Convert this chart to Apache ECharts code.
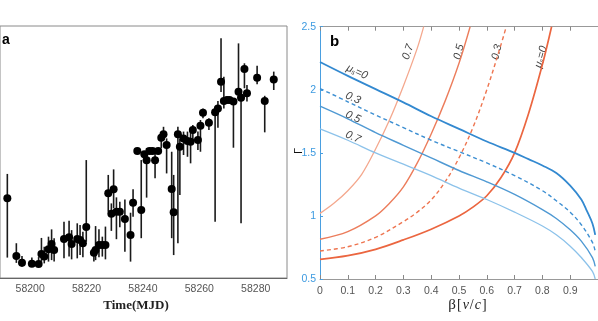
<!DOCTYPE html>
<html><head><meta charset="utf-8">
<script src="https://cdn.jsdelivr.net/npm/echarts@6/dist/echarts.min.js"></script>
<style>html,body{margin:0;padding:0;background:#fff}#c{width:598px;height:321px}</style>
</head><body><div id="c"></div>
<script>
// ---- Panel a: light curve (MJD, value, lower, upper) ----
const mjd = [58191.9,58195.1,58197.1,58200.6,58203.0,58204.0,58205.0,58206.5,58207.6,58208.5,58212.0,58213.8,58214.7,58216.7,58217.7,58218.7,58219.9,58222.6,58223.2,58224.4,58225.6,58226.7,58227.7,58228.8,58229.6,58230.6,58231.8,58233.6,58235.6,58236.5,58238.0,58239.4,58240.5,58241.3,58242.3,58243.4,58244.3,58245.4,58246.5,58247.3,58248.4,58250.2,58250.9,58252.4,58253.1,58254.4,58255.8,58256.9,58257.7,58259.5,58260.4,58261.3,58263.4,58265.6,58266.6,58267.7,58268.7,58269.8,58270.7,58272.1,58273.9,58274.8,58276.0,58276.9,58280.5,58283.2,58286.4];
const flux = [3.16,0.87,0.61,0.57,0.56,0.95,0.85,1.14,1.35,1.11,1.55,1.62,1.35,1.55,1.51,1.38,2.02,1.00,1.11,1.31,1.31,1.31,3.36,2.55,3.52,2.63,2.63,2.34,1.71,2.99,5.04,2.70,4.91,4.67,5.04,5.04,4.67,5.04,5.57,5.70,5.28,3.53,2.61,5.70,5.21,5.54,5.44,5.41,5.87,5.48,6.04,6.56,6.16,6.58,6.73,7.79,7.02,7.06,7.06,7.00,7.39,7.15,8.29,7.33,7.95,7.02,7.88];
const fluxLo = [0.81,0.60,0.45,0.45,0.44,0.65,0.58,0.65,0.71,0.65,0.78,0.85,0.74,0.78,0.91,0.82,1.44,0.65,0.71,0.82,0.85,0.74,2.63,1.87,2.77,1.54,2.01,1.04,0.65,2.43,4.94,1.58,4.80,3.19,4.97,4.97,3.96,4.97,5.15,5.48,4.15,1.58,0.91,1.38,3.29,4.88,4.81,4.55,5.48,5.08,5.01,6.34,5.87,2.23,5.96,7.38,6.73,6.98,6.98,5.17,7.13,2.17,7.53,7.00,7.69,5.78,7.46];
const fluxHi = [4.13,1.38,0.87,0.81,0.83,1.59,1.24,1.64,1.93,1.58,2.23,2.27,1.90,2.17,2.10,1.84,4.68,1.18,2.06,1.93,1.64,2.04,4.09,2.96,4.31,3.20,3.03,3.12,2.59,3.52,5.14,4.68,5.02,5.16,5.11,5.11,5.04,5.11,5.78,6.00,5.54,5.01,4.09,6.00,5.54,5.81,5.81,5.87,6.07,5.81,6.27,6.73,6.34,6.80,7.02,9.51,7.99,7.14,7.14,7.14,9.31,7.19,8.52,7.66,8.42,7.23,8.19];
const mjdTicks = [58200,58220,58240,58260,58280];

// ---- Panel b: Gamma vs beta curves ([beta, Gamma]) ----
const redMu0  = [[0,0.656],[0.1,0.685],[0.2,0.735],[0.3,0.81],[0.4,0.895],[0.5,1.0],[0.55,1.07],[0.6,1.16],[0.65,1.3],[0.7,1.5],[0.75,1.81],[0.8,2.2],[0.833,2.5]];
const redMu03 = [[0,0.722],[0.1,0.756],[0.2,0.83],[0.3,0.955],[0.35,1.03],[0.4,1.127],[0.45,1.27],[0.5,1.46],[0.55,1.70],[0.6,2.0],[0.65,2.35],[0.67,2.5]];
const redMu05 = [[0,0.815],[0.1,0.875],[0.2,1.0],[0.25,1.1],[0.3,1.23],[0.35,1.42],[0.4,1.65],[0.45,1.91],[0.5,2.21],[0.54,2.5]];
const redMu07 = [[0,1.02],[0.05,1.1],[0.1,1.2],[0.15,1.33],[0.2,1.53],[0.25,1.76],[0.3,2.03],[0.35,2.33],[0.373,2.5]];
const blueMu0  = [[0,2.22],[0.1,2.11],[0.2,2.005],[0.3,1.9],[0.4,1.79],[0.5,1.69],[0.6,1.59],[0.7,1.5],[0.75,1.45],[0.8,1.40],[0.85,1.34],[0.9,1.24],[0.94,1.13],[0.96,1.04],[0.98,0.94],[0.99,0.85]];
const blueMu03 = [[0,2.01],[0.1,1.905],[0.2,1.80],[0.3,1.70],[0.4,1.60],[0.5,1.51],[0.6,1.42],[0.7,1.32],[0.8,1.20],[0.85,1.12],[0.9,1.03],[0.94,0.93],[0.98,0.79],[0.99,0.72]];
const blueMu05 = [[0,1.87],[0.1,1.77],[0.2,1.66],[0.3,1.56],[0.4,1.46],[0.5,1.36],[0.6,1.27],[0.7,1.17],[0.8,1.05],[0.85,0.98],[0.9,0.89],[0.94,0.80],[0.98,0.67],[0.99,0.60]];
const blueMu07 = [[0,1.69],[0.1,1.60],[0.2,1.50],[0.3,1.41],[0.4,1.32],[0.5,1.22],[0.6,1.13],[0.7,1.03],[0.8,0.92],[0.85,0.85],[0.9,0.76],[0.94,0.67],[0.98,0.56],[0.99,0.50]];

const chart = echarts.init(document.getElementById('c'), null, {renderer:'canvas'});
const errData = mjd.map((m,i)=>[m, fluxLo[i], fluxHi[i]]);
const ptData = mjd.map((m,i)=>[m, flux[i]]);

function line(data, color, width, dashed, z){
  return {type:'line', xAxisIndex:1, yAxisIndex:1, data, smooth:0.35, symbol:'none', silent:true, z:z||2,
    lineStyle:{color, width, type: dashed ? [4,3] : 'solid'}, clip:true};
}
const muText = (x,y,rot)=>({type:'text', x, y, rotation:rot, style:{text:'{m|μ}{s|s}{e|=0}', align:'center', verticalAlign:'middle',
  rich:{m:{font:'italic 11px "Liberation Sans"', fill:'#444'}, s:{font:'italic 7px "Liberation Sans"', fill:'#444', verticalAlign:'bottom', padding:[4,0,0,0]}, e:{font:'italic 11px "Liberation Sans"', fill:'#444'}}}});
const numText = (x,y,rot,t)=>({type:'text', x, y, rotation:rot, style:{text:t, font:'italic 11px "Liberation Sans"', fill:'#444', align:'center', verticalAlign:'middle'}});

chart.setOption({
  animation:false,
  grid:[
    {left:-1, top:26, width:288, height:252, show:true, borderColor:'#8a8a8a', borderWidth:1, backgroundColor:'transparent'},
    {left:320, top:26.7, width:284, height:252.3, show:false}
  ],
  xAxis:[
    {gridIndex:0, type:'value', min:58189.3, max:58291.1, splitLine:{show:false},
     axisLine:{show:true, lineStyle:{color:'#666'}}, axisTick:{show:false},
     axisLabel:{customValues:mjdTicks, formatter:v=>String(v), color:'#555', fontFamily:'Liberation Sans', fontSize:10.5, margin:6}},
    {gridIndex:1, type:'value', min:0, max:1, interval:0.1, splitLine:{show:false},
     axisLine:{lineStyle:{color:'#999'}}, axisTick:{inside:true, length:4, lineStyle:{color:'#888'}},
     axisLabel:{color:'#555', fontFamily:'Liberation Sans', fontSize:10.5, margin:7, showMaxLabel:false}},
    {gridIndex:1, type:'value', position:'top', min:0, max:1, interval:0.1, splitLine:{show:false},
     axisLine:{lineStyle:{color:'#999'}}, axisTick:{inside:true, length:4, lineStyle:{color:'#888'}},
     axisLabel:{show:false}}
  ],
  yAxis:[
    {gridIndex:0, type:'value', min:0, max:10, show:false},
    {gridIndex:1, type:'value', min:0.5, max:2.5, interval:0.5, splitLine:{show:false},
     axisLine:{show:true, lineStyle:{color:'#4a9fe0'}}, axisTick:{show:true, inside:true, length:3, lineStyle:{color:'#4a9fe0'}},
     axisLabel:{color:'#3d9ae0', fontFamily:'Liberation Sans', fontSize:10.5, margin:4}}
  ],
  series:[
    {type:'custom', xAxisIndex:0, yAxisIndex:0, data:errData, silent:true, z:2,
     renderItem:function(params, api){
       const a = api.coord([api.value(0), api.value(1)]);
       const b = api.coord([api.value(0), api.value(2)]);
       return {type:'line', shape:{x1:a[0], y1:a[1], x2:b[0], y2:b[1]}, style:{stroke:'#1a1a1a', lineWidth:1.6}};
     }},
    {type:'scatter', xAxisIndex:0, yAxisIndex:0, data:ptData, symbol:'circle', symbolSize:8, itemStyle:{color:'#000', opacity:1}, z:3, silent:true},
    line(redMu07, '#f4a88e', 1.3),
    line(redMu05, '#ec7d5c', 1.4),
    line(redMu03, '#ee7550', 1.4, true),
    line(redMu0, '#eb6640', 1.7),
    line(blueMu07, '#8cc2ea', 1.3),
    line(blueMu05, '#4f99d3', 1.4),
    line(blueMu03, '#3d8fd2', 1.4, true),
    line(blueMu0, '#3389d0', 1.8)
  ],
  graphic:[
    {type:'text', left:2, top:33, style:{text:'a', font:'bold 14px "Liberation Sans"', fill:'#000'}},
    {type:'text', left:330, top:34, style:{text:'b', font:'bold 15px "Liberation Sans"', fill:'#000'}},
    {type:'text', x:136, y:306, style:{text:'Time(MJD)', font:'bold 13px "Liberation Serif"', fill:'#222', align:'center', verticalAlign:'middle'}},
    {type:'text', x:299, y:151, rotation:Math.PI/2, style:{text:'Γ', font:'11px "Liberation Sans"', fill:'#111', align:'center', verticalAlign:'middle'}},
    {type:'text', x:468, y:305, style:{
      text:'{b|β}{p|[}{i|v}{p|/}{i|c}{p|]}', align:'center', verticalAlign:'middle',
      rich:{b:{font:'15px "Liberation Serif"', fill:'#222'}, p:{font:'14px "Liberation Serif"', fill:'#222', padding:[0,1]}, i:{font:'italic 14px "Liberation Serif"', fill:'#222'}}}},
    muText(357,72,-0.42),
    numText(353,98,-0.42,'0.3'),
    numText(353,117,-0.42,'0.5'),
    numText(353,137,-0.42,'0.7'),
    numText(408,52,1.25,'0.7'),
    numText(459,52,1.3,'0.5'),
    numText(497,52,1.35,'0.3'),
    muText(541,57,1.3)
  ]
});
</script></body></html>
